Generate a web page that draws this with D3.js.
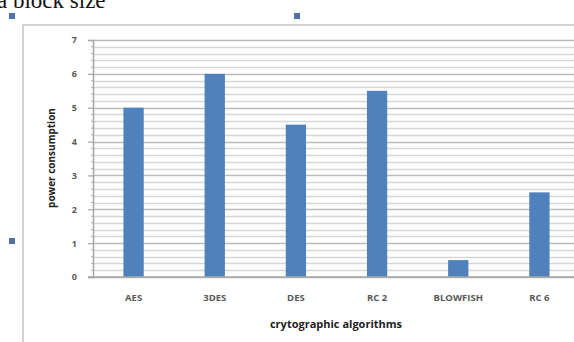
<!DOCTYPE html>
<html>
<head>
<meta charset="utf-8">
<script src="https://cdn.jsdelivr.net/npm/d3@7"></script>
<style>
  html, body { margin: 0; padding: 0; background: #fff; overflow: hidden; }
  svg { display: block; }
</style>
</head>
<body>
<svg id="chart" width="574" height="342"></svg>
<script>
// Power consumption per cryptographic algorithm
const categories = ["AES", "3DES", "DES", "RC 2", "BLOWFISH", "RC 6"];
const powerValues = [5, 6, 4.5, 5.5, 0.5, 2.5];
const yTicks = [0, 1, 2, 3, 4, 5, 6, 7];

const svg = d3.select("#chart");

// Surrounding document text and selection handles
svg.append("text")
  .attr("x", -3).attr("y", 8)
  .attr("font-family", "Liberation Serif, serif")
  .attr("font-size", 23)
  .attr("fill", "#111")
  .text("a block size");

const handles = [[9, 13], [294, 13], [9, 238]];
svg.selectAll("rect.handle").data(handles).enter().append("rect")
  .attr("class", "handle")
  .attr("x", d => d[0]).attr("y", d => d[1])
  .attr("width", 6).attr("height", 6)
  .attr("fill", "#4f73a8");

// Chart frame
svg.append("path")
  .attr("d", "M23,342 L23,25 L574,25")
  .attr("fill", "none")
  .attr("stroke", "#d4d4d4")
  .attr("stroke-width", 2);

const plot = { left: 93, right: 580, top: 40, bottom: 277 };

const x = d3.scaleBand()
  .domain(categories)
  .range([plot.left, plot.right])
  .paddingInner(0.75)
  .paddingOuter(0.375);

const y = d3.scaleLinear()
  .domain([0, 7])
  .range([plot.bottom, plot.top]);

// Minor and major horizontal gridlines
const minor = d3.range(0, 7.001, 0.2).map(v => +v.toFixed(1));
svg.append("g").selectAll("line").data(minor).enter().append("line")
  .attr("x1", plot.left).attr("x2", 574)
  .attr("y1", d => Math.round(y(d)) + 0.5).attr("y2", d => Math.round(y(d)) + 0.5)
  .attr("stroke", d => Number.isInteger(d) ? "#bcbcbc" : "#d6d6d6")
  .attr("stroke-width", 1.4);

// Y axis with tick labels
const yAxis = d3.axisLeft(y).tickValues(yTicks).tickSize(5).tickPadding(11)
  .tickFormat(d3.format("d"));
const gy = svg.append("g")
  .attr("transform", `translate(${plot.left},0)`)
  .call(yAxis);
gy.select(".domain").attr("stroke", "#a6a6a6").attr("stroke-width", 1.5);
gy.selectAll(".tick line").attr("stroke", "#a6a6a6").attr("stroke-width", 1.2);
gy.selectAll(".tick text")
  .attr("font-family", "Open Sans, sans-serif")
  .attr("font-weight", "bold")
  .attr("font-size", 9)
  .attr("fill", "#595959");

// Minor tick marks along the y axis
svg.append("g").selectAll("line").data(minor.filter(v => !Number.isInteger(v))).enter().append("line")
  .attr("x1", plot.left - 2).attr("x2", plot.left)
  .attr("y1", d => y(d)).attr("y2", d => y(d))
  .attr("stroke", "#b0b0b0");

// Bars
svg.append("g").selectAll("rect").data(categories).enter().append("rect")
  .attr("x", d => x(d))
  .attr("y", (d, i) => y(powerValues[i]))
  .attr("width", x.bandwidth())
  .attr("height", (d, i) => y(0) - y(powerValues[i]))
  .attr("fill", "#4f81bd");

// Baseline
svg.append("line")
  .attr("x1", plot.left - 5).attr("x2", 574)
  .attr("y1", y(0)).attr("y2", y(0))
  .attr("stroke", "#a6a6a6").attr("stroke-width", 1.5);

// Category labels
const xAxis = d3.axisBottom(x).tickSize(0).tickPadding(17);
const gx = svg.append("g")
  .attr("transform", `translate(0,${plot.bottom})`)
  .call(xAxis);
gx.select(".domain").remove();
gx.selectAll(".tick text")
  .attr("font-family", "Open Sans, sans-serif")
  .attr("font-weight", "bold")
  .attr("font-size", 9.5)
  .attr("fill", "#595959");

// Axis titles
svg.append("text")
  .attr("x", 336).attr("y", 328)
  .attr("text-anchor", "middle")
  .attr("font-family", "Open Sans, sans-serif")
  .attr("font-weight", "bold")
  .attr("font-size", 11)
  .attr("fill", "#222")
  .text("crytographic algorithms");

svg.append("text")
  .attr("transform", "translate(55,158) rotate(-90)")
  .attr("text-anchor", "middle")
  .attr("font-family", "Open Sans, sans-serif")
  .attr("font-weight", "bold")
  .attr("font-size", 10)
  .attr("fill", "#222")
  .text("power consumption");
</script>
</body>
</html>
